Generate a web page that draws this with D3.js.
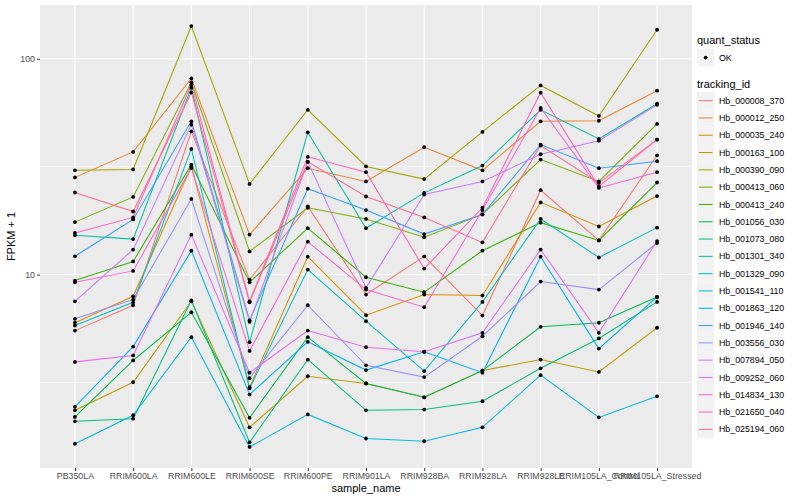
<!DOCTYPE html>
<html><head><meta charset="utf-8">
<script src="https://cdn.jsdelivr.net/npm/d3@7"></script>
<style>body{margin:0;background:#fff} text{font-family:"Liberation Sans",Arial,Helvetica,sans-serif}</style>
</head><body><svg id="c" width="800" height="500"></svg>
<script>
const samples = ["PB350LA","RRIM600LA","RRIM600LE","RRIM600SE","RRIM600PE","RRIM901LA","RRIM928BA","RRIM928LA","RRIM928LE","RRIM105LA_Control","RRIM105LA_Stressed"];
const trackingIds = ["Hb_000008_370","Hb_000012_250","Hb_000035_240","Hb_000163_100","Hb_000390_090","Hb_000413_060","Hb_000413_240","Hb_001056_030","Hb_001073_080","Hb_001301_340","Hb_001329_090","Hb_001541_110","Hb_001863_120","Hb_001946_140","Hb_003556_030","Hb_007894_050","Hb_009252_060","Hb_014834_130","Hb_021650_040","Hb_025194_060"];
const seriesColors = ["#F8766D","#EA8331","#D89000","#C09B00","#A3A500","#7CAE00","#39B600","#00BB4E","#00BF7D","#00C1A3","#00BFC4","#00BAE0","#00B0F6","#35A2FF","#9590FF","#C77CFF","#E76BF3","#FA62DB","#FF62BC","#FF6C91"];
const yTicks = [10, 100];

// FPKM + 1 per sample, one array per tracking_id
const hb000008_370 = [5.50, 7.21, 46.1, 9.48, 20.7, 8.08, 12.15, 6.46, 24.6, 14.4, 35.7];
const hb000012_250 = [28.2, 37.0, 81.0, 15.3, 31.1, 27.0, 38.9, 30.4, 51.3, 51.6, 71.1];
const hb000035_240 = [5.98, 7.93, 31.7, 3.01, 12.1, 6.48, 8.08, 8.0, 21.6, 16.7, 23.1];
const hb000163_100 = [2.35, 3.17, 7.52, 1.96, 3.38, 3.13, 2.70, 3.59, 4.04, 3.54, 5.67];
const hb000390_090 = [30.4, 30.7, 141.7, 26.3, 58.0, 31.7, 27.7, 45.8, 75.2, 54.3, 136.2];
const hb000413_060 = [17.5, 22.9, 77.7, 12.8, 20.4, 18.1, 14.9, 19.0, 34.1, 27.0, 49.9];
const hb000413_240 = [9.38, 11.5, 32.3, 9.21, 16.4, 9.72, 8.28, 12.9, 17.4, 14.4, 26.7];
const hb001056_030 = [2.19, 4.0, 6.69, 2.17, 5.13, 3.13, 2.70, 3.59, 5.73, 5.98, 7.88];
const hb001073_080 = [2.09, 2.15, 7.6, 1.67, 4.04, 2.35, 2.37, 2.59, 3.68, 5.06, 7.47];
const hb001301_340 = [15.2, 14.6, 73.4, 4.86, 45.6, 16.4, 23.9, 32.0, 58.0, 42.5, 61.9];
const hb001329_090 = [5.81, 7.44, 38.2, 2.97, 10.55, 6.08, 3.57, 7.47, 18.1, 12.0, 16.5];
const hb001541_110 = [1.645, 2.23, 5.13, 1.59, 2.25, 1.74, 1.69, 1.96, 3.42, 2.18, 2.73];
const hb001863_120 = [2.44, 4.64, 12.9, 2.78, 4.88, 3.61, 4.39, 3.51, 12.1, 4.54, 7.88];
const hb001946_140 = [12.15, 18.0, 51.3, 6.14, 25.0, 19.9, 15.4, 19.0, 40.0, 31.1, 33.5];
const hb003556_030 = [6.24, 7.66, 22.4, 3.31, 7.21, 3.80, 3.35, 5.18, 9.28, 8.52, 14.0];
const hb007894_050 = [7.52, 13.05, 49.5, 6.04, 33.3, 8.68, 23.5, 27.0, 36.1, 41.7, 61.2];
const hb009252_060 = [3.94, 4.22, 15.3, 3.51, 5.50, 4.61, 4.39, 5.37, 13.05, 5.37, 14.3];
const hb014834_130 = [9.21, 10.4, 31.2, 4.43, 14.2, 8.52, 7.06, 19.9, 59.1, 25.2, 29.8];
const hb021650_040 = [15.6, 18.4, 75.8, 7.52, 35.1, 29.8, 10.66, 20.4, 69.6, 25.6, 42.2];
const hb025194_060 = [24.0, 19.6, 69.8, 7.44, 33.3, 23.0, 18.4, 14.1, 39.6, 26.6, 42.2];

const allSeries = [hb000008_370,hb000012_250,hb000035_240,hb000163_100,hb000390_090,hb000413_060,hb000413_240,hb001056_030,hb001073_080,hb001301_340,hb001329_090,hb001541_110,hb001863_120,hb001946_140,hb003556_030,hb007894_050,hb009252_060,hb014834_130,hb021650_040,hb025194_060];

const svg = d3.select("#c");
const P = {left: 40, right: 692, top: 5, bottom: 468};

const x = d3.scalePoint().domain(samples).range([P.left, P.right]).padding(0.6);
const allVals = allSeries.flat();
const lmin = Math.log10(d3.min(allVals)), lmax = Math.log10(d3.max(allVals));
const pad = (lmax - lmin) * 0.05;
const y = d3.scaleLog().domain([Math.pow(10, lmin - pad), Math.pow(10, lmax + pad)]).range([P.bottom, P.top]);

// panel
svg.append("rect").attr("x", P.left).attr("y", P.top).attr("width", P.right - P.left).attr("height", P.bottom - P.top).attr("fill", "#EBEBEB");

// minor horizontal grid (half decade in log space)
const minor = [];
for (let e = -1; e <= 3; e++) minor.push(Math.pow(10, e + 0.5));
svg.append("g").selectAll("line").data(minor.filter(v => v > y.domain()[0] && v < y.domain()[1])).join("line")
  .attr("x1", P.left).attr("x2", P.right).attr("y1", d => y(d)).attr("y2", d => y(d))
  .attr("stroke", "#fff").attr("stroke-width", 0.55);
svg.append("g").selectAll("line").data(yTicks).join("line")
  .attr("x1", P.left).attr("x2", P.right).attr("y1", d => y(d)).attr("y2", d => y(d))
  .attr("stroke", "#fff").attr("stroke-width", 1.1);
svg.append("g").selectAll("line").data(samples).join("line")
  .attr("x1", d => x(d)).attr("x2", d => x(d)).attr("y1", P.top).attr("y2", P.bottom)
  .attr("stroke", "#fff").attr("stroke-width", 1.1);

// lines
const line = d3.line().x((d, i) => x(samples[i])).y(d => y(d));
svg.append("g").selectAll("path").data(allSeries).join("path")
  .attr("d", d => line(d)).attr("fill", "none")
  .attr("stroke", (d, i) => seriesColors[i]).attr("stroke-width", 1.05);

// points
const pts = [];
allSeries.forEach((s, k) => s.forEach((v, i) => pts.push({s: samples[i], v})));
svg.append("g").selectAll("circle").data(pts).join("circle")
  .attr("cx", d => x(d.s)).attr("cy", d => y(d.v)).attr("r", 1.9).attr("fill", "#000");

// axes
const yAxis = d3.axisLeft(y).tickValues(yTicks).tickFormat(d3.format("d")).tickSize(3).tickPadding(2);
const gy = svg.append("g").attr("transform", `translate(${P.left},0)`).call(yAxis);
gy.select(".domain").remove();
gy.selectAll("line").attr("stroke", "#333");
gy.selectAll("text").attr("fill", "#4D4D4D").style("font-size", "8.8px").style("font-family", "Liberation Sans, Arial, sans-serif");

const xAxis = d3.axisBottom(x).tickSize(3).tickPadding(2);
const gx = svg.append("g").attr("transform", `translate(0,${P.bottom})`).call(xAxis);
gx.select(".domain").remove();
gx.selectAll("line").attr("stroke", "#333");
gx.selectAll("text").attr("fill", "#4D4D4D").style("font-size", "8.8px").style("font-family", "Liberation Sans, Arial, sans-serif");

svg.append("text").attr("x", (P.left + P.right) / 2).attr("y", 492).attr("text-anchor", "middle")
  .style("font-size", "11px").attr("fill", "#000").text("sample_name");
svg.append("text").attr("transform", `translate(15,${(P.top + P.bottom) / 2}) rotate(-90)`).attr("text-anchor", "middle")
  .style("font-size", "11px").attr("fill", "#000").text("FPKM + 1");

// legends
const L = svg.append("g").attr("transform", "translate(697,0)");
L.append("text").attr("x", 0).attr("y", 44).style("font-size", "11px").text("quant_status");
L.append("rect").attr("x", 0).attr("y", 49).attr("width", 17.3).attr("height", 17.3).attr("fill", "#F2F2F2");
L.append("circle").attr("cx", 8.65).attr("cy", 57.6).attr("r", 1.9).attr("fill", "#000");
L.append("text").attr("x", 22).attr("y", 60.7).style("font-size", "8.8px").text("OK");

L.append("text").attr("x", 0).attr("y", 88).style("font-size", "11px").text("tracking_id");
const items = L.append("g").selectAll("g").data(trackingIds).join("g")
  .attr("transform", (d, i) => `translate(0,${92 + i * 17.3})`);
items.append("rect").attr("width", 17.3).attr("height", 17.3).attr("fill", "#F2F2F2");
items.append("line").attr("x1", 1.7).attr("x2", 15.6).attr("y1", 8.65).attr("y2", 8.65)
  .attr("stroke", (d, i) => seriesColors[i]).attr("stroke-width", 1.05);
items.append("text").attr("x", 22).attr("y", 11.8).style("font-size", "8.8px").text(d => d);
</script></body></html>
